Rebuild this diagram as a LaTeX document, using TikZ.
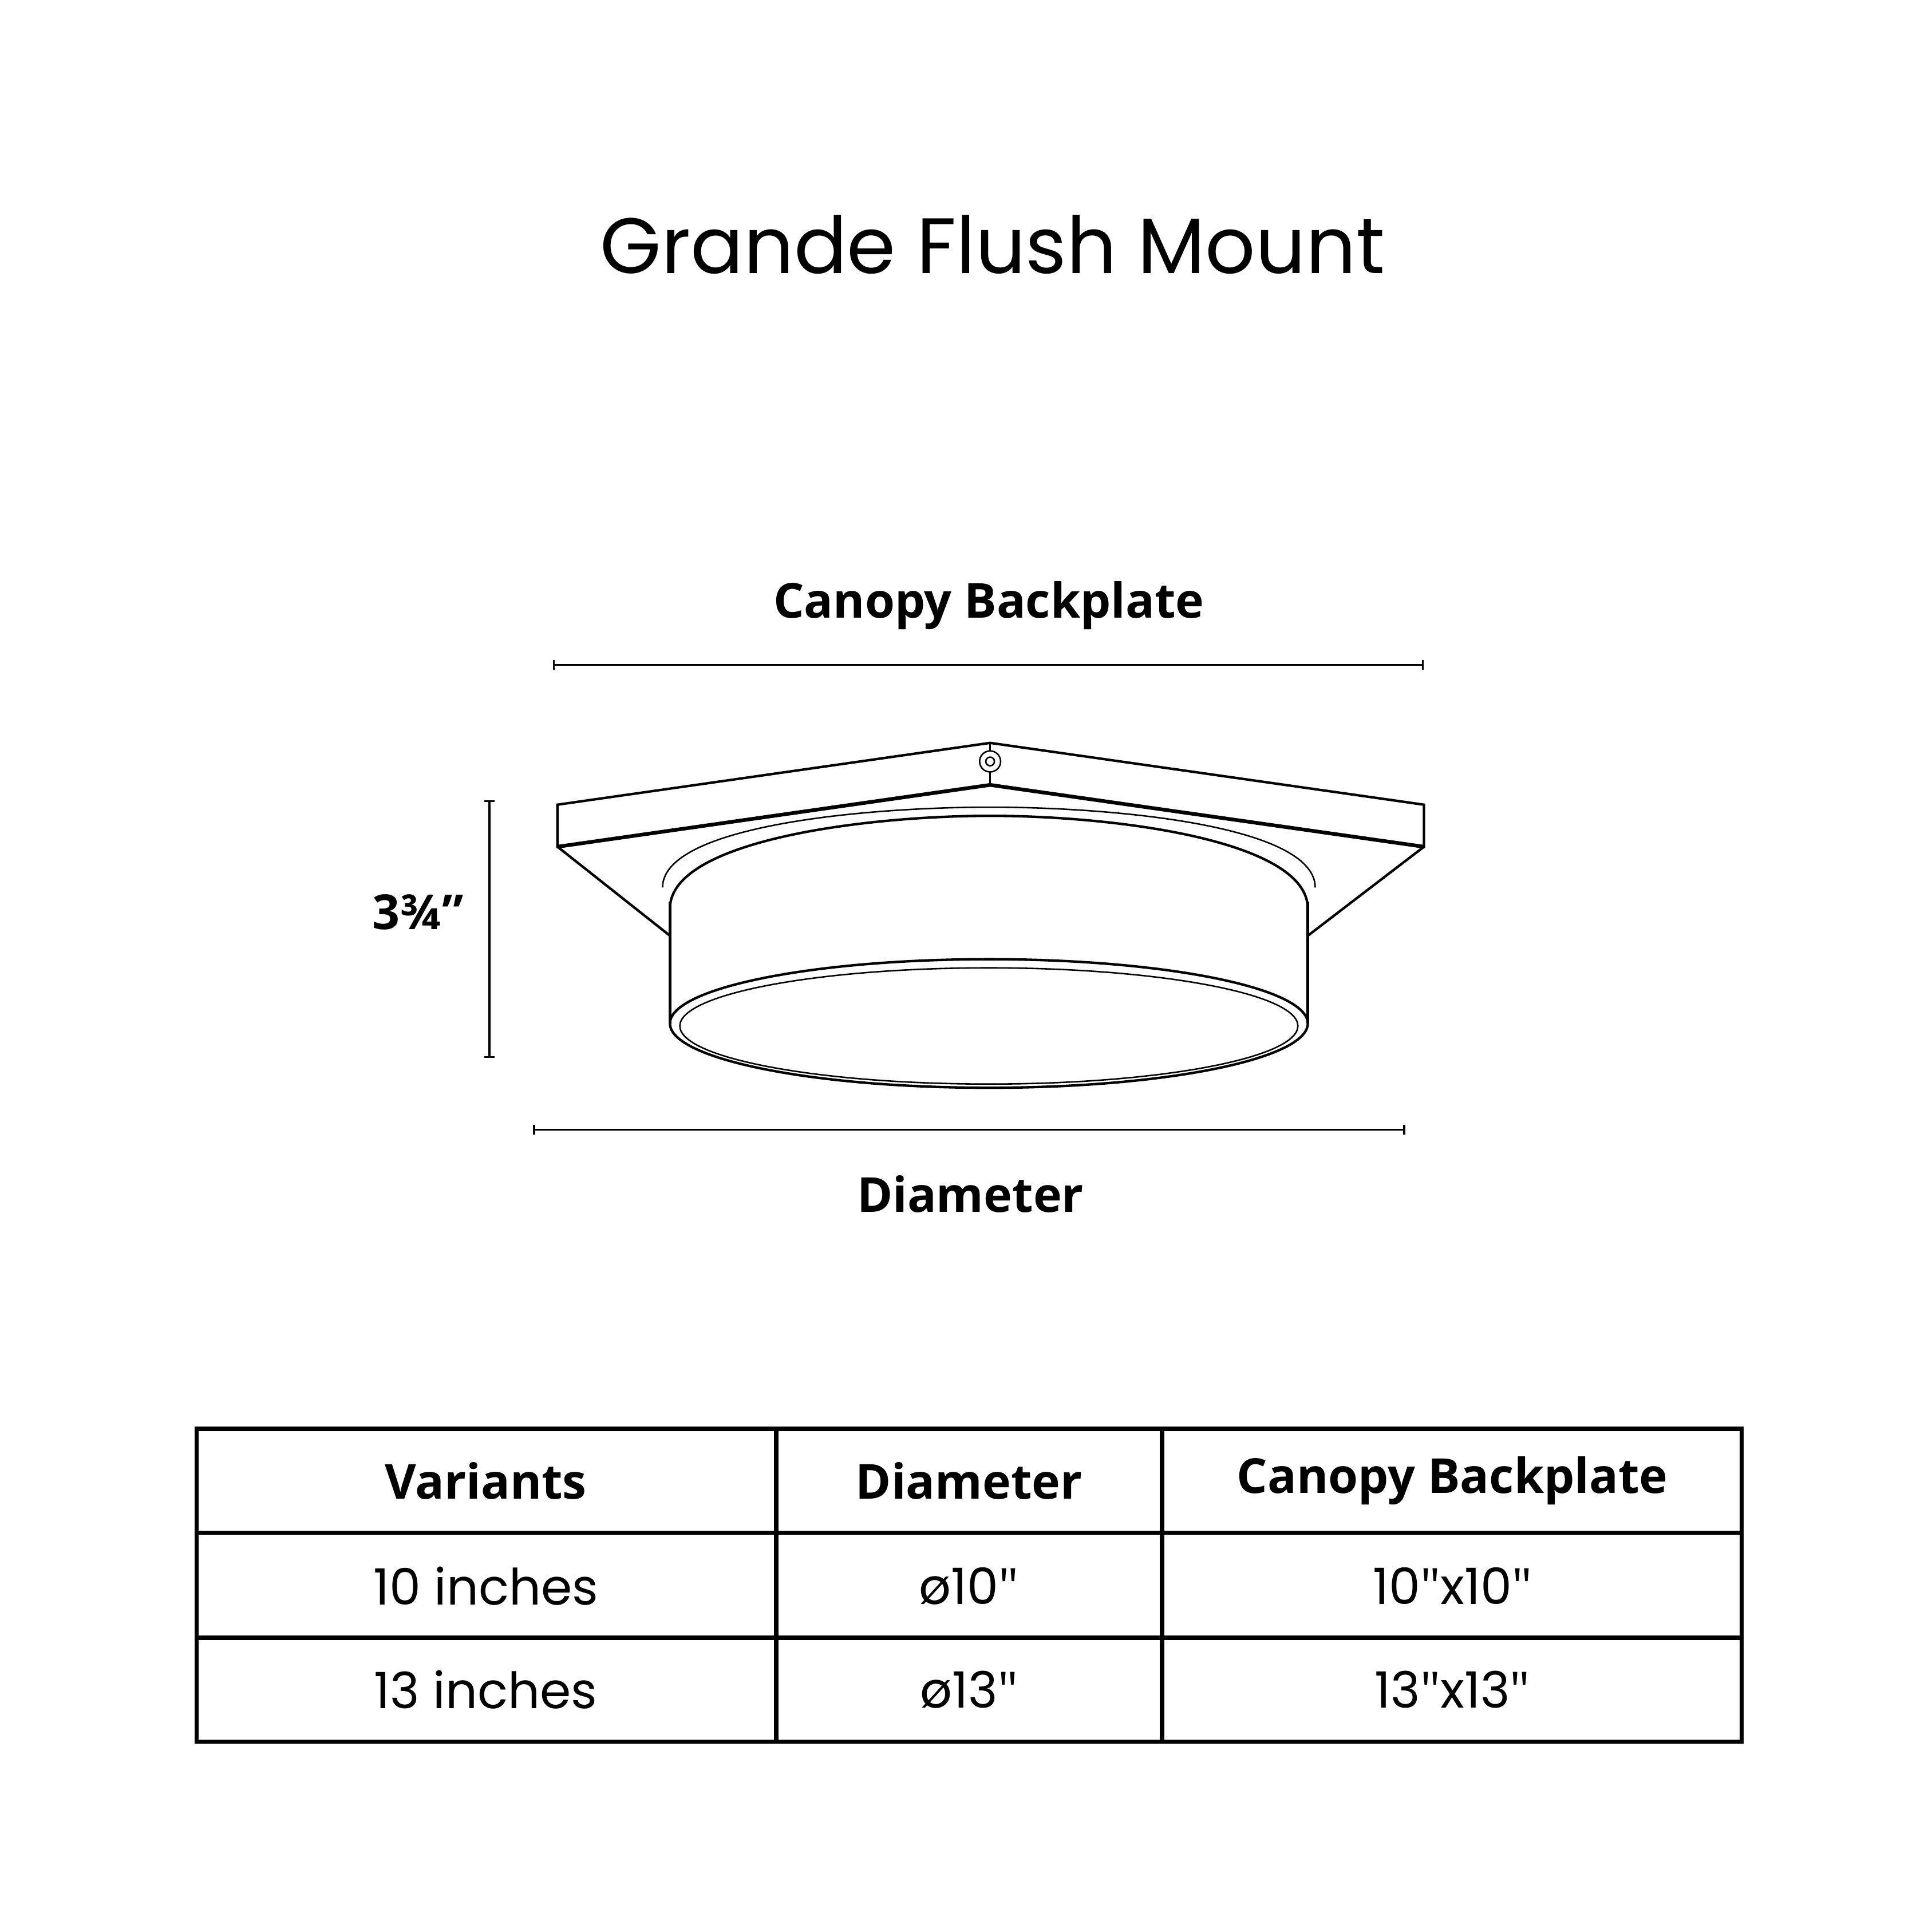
\documentclass[tikz,border=0pt]{standalone}
\usepackage{fontspec}
\setmainfont{Poppins}
\newfontfamily\osans{Open Sans}
\newcommand{\dq}{{\osans\char"22}}
\begin{document}
\begin{tikzpicture}[x=1pt,y=-1pt,
  ln/.style={line width=2pt,line join=miter},
  thin/.style={line width=1.2pt},
  dim/.style={line width=1.6pt},
  lbl/.style={font=\fontsize{39}{46}\osans\bfseries},
  cell/.style={font=\fontsize{40.5}{48}\selectfont},
  hcell/.style={font=\fontsize{39}{46}\osans\bfseries},
  tbl/.style={line width=3.5pt}]
\fill[white] (0,0) rectangle (1563,1563);
\useasboundingbox (0,0) rectangle (1563,1563);
\node[font=\fontsize{63.5}{72}\selectfont] (title) at (803,198) {Grande Flush Mount};
% plate
\draw[ln,fill=white] (451,651) -- (801,601) -- (1152,651) -- (1152,685) -- (801,635) -- (451,685) -- cycle;
\draw[line width=3pt] (451,685) -- (801,635) -- (1152,685);
\draw[ln] (451,685) -- (542,757);
\draw[ln] (1152,685) -- (1058,757);
\draw[thin] (801,601) -- (801,635);
\node[draw,circle,thin,fill=white,minimum size=17pt,inner sep=0] (screw) at (801,616) {};
\draw[thin] (screw.center) circle (3.5);
% cylinder
\draw[thin] (536,718) .. controls (536,668) and (700,653) .. (801,653) .. controls (902,653) and (1064,668) .. (1064,718);
\draw[ln] (542,735) .. controls (542,680) and (700,660) .. (801,660) .. controls (902,660) and (1058,680) .. (1058,735);
\draw[ln] (542,730) -- (542,828);
\draw[ln] (1058,730) -- (1058,828);
\draw[ln] (800,828) ellipse (258 and 52);
\draw[thin] (800,830) ellipse (250 and 47);
% dimension lines
\coordinate (t1) at (448,538); \coordinate (t2) at (1151,538);
\draw[dim] (t1) -- (t2);
\draw[dim] ([yshift=-4]t1) -- ([yshift=4]t1);
\draw[dim] ([yshift=-4]t2) -- ([yshift=4]t2);
\coordinate (v1) at (396,648); \coordinate (v2) at (396,855);
\draw[dim] (v1) -- (v2);
\draw[dim] ([xshift=-4]v1) -- ([xshift=4]v1);
\draw[dim] ([xshift=-4]v2) -- ([xshift=4]v2);
\coordinate (b1) at (432,914); \coordinate (b2) at (1136,914);
\draw[dim] (b1) -- (b2);
\draw[dim] ([yshift=-4]b1) -- ([yshift=4]b1);
\draw[dim] ([yshift=-4]b2) -- ([yshift=4]b2);
\node[lbl] (lcb) at (800,490) {Canopy Backplate};
\node[lbl] (lh) at (338,738) {3¾”};
\node[lbl] (ld) at (785,966) {Diameter};
% table
\draw[tbl] (159,1156) rectangle (1409,1409);
\draw[tbl] (159,1240) -- (1409,1240);
\draw[tbl] (159,1325) -- (1409,1325);
\draw[tbl] (628,1156) -- (628,1409);
\draw[tbl] (940,1156) -- (940,1409);
\node[hcell] (h1) at (393,1198) {Variants};
\node[hcell] (h2) at (784,1198) {Diameter};
\node[hcell] (h3) at (1175,1198) {Canopy Backplate};
\node[cell] (a1) at (393,1283) {10 inches};
\node[cell] (a2) at (784,1283) {ø10\dq};
\node[cell] (a3) at (1175,1283) {10\dq x10\dq};
\node[cell] (b1n) at (393,1367) {13 inches};
\node[cell] (b2n) at (784,1367) {ø13\dq};
\node[cell] (b3n) at (1175,1367) {13\dq x13\dq};
\end{tikzpicture}
\end{document}
